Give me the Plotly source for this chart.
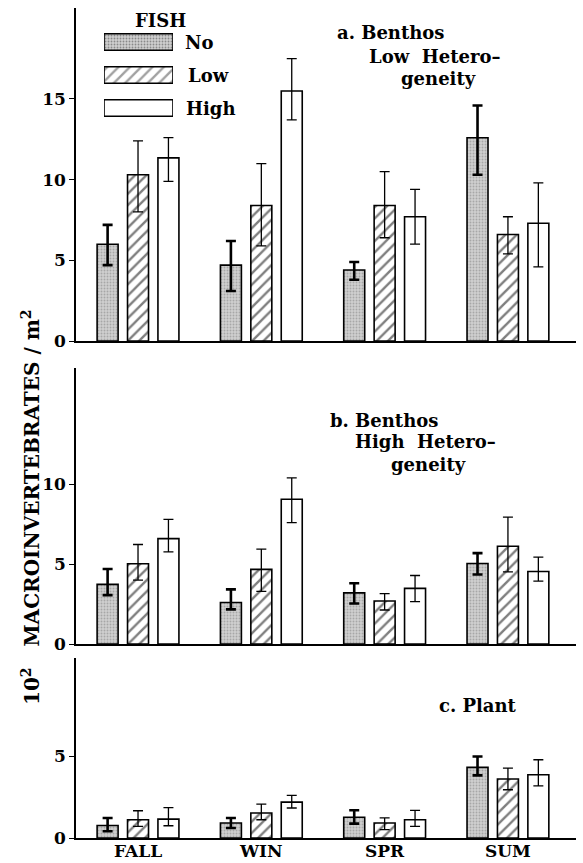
import plotly.graph_objects as go

seasons = ["FALL", "WIN", "SPR", "SUM"]
fish_levels = ["No", "Low", "High"]

# Panel a: Benthos, low heterogeneity (means, upper and lower error limits)
a_no = [6.0, 4.7, 4.4, 12.6]
a_no_hi = [7.2, 6.2, 4.9, 14.6]
a_no_lo = [4.7, 3.1, 3.8, 10.3]
a_low = [10.3, 8.4, 8.4, 6.6]
a_low_hi = [12.4, 11.0, 10.5, 7.7]
a_low_lo = [8.0, 5.9, 6.4, 5.4]
a_high = [11.35, 15.5, 7.7, 7.3]
a_high_hi = [12.6, 17.5, 9.4, 9.8]
a_high_lo = [9.9, 13.7, 6.0, 4.6]

# Panel b: Benthos, high heterogeneity
b_no = [3.73, 2.6, 3.2, 5.04]
b_no_hi = [4.7, 3.42, 3.8, 5.69]
b_no_lo = [3.06, 2.17, 2.54, 4.35]
b_low = [5.02, 4.67, 2.69, 6.12]
b_low_hi = [6.23, 5.94, 3.15, 7.94]
b_low_lo = [4.0, 3.3, 2.13, 4.52]
b_high = [6.6, 9.06, 3.48, 4.54]
b_high_hi = [7.8, 10.4, 4.29, 5.44]
b_high_lo = [5.77, 7.6, 2.65, 3.94]

# Panel c: Plant
c_no = [0.77, 0.92, 1.27, 4.33]
c_no_hi = [1.23, 1.23, 1.7, 5.0]
c_no_lo = [0.41, 0.61, 0.88, 3.84]
c_low = [1.12, 1.53, 0.92, 3.62]
c_low_hi = [1.67, 2.08, 1.23, 4.29]
c_low_lo = [0.71, 1.12, 0.51, 2.96]
c_high = [1.16, 2.2, 1.12, 3.88]
c_high_hi = [1.86, 2.61, 1.7, 4.8]
c_high_lo = [0.75, 1.84, 0.71, 3.2]

yticks_a = [0, 5, 10, 15]
yticks_b = [0, 5, 10]
yticks_c = [0, 5]

FONT = "'DejaVu Serif', 'Liberation Serif', serif"
W, H = 583, 863
ML, MR, MT, MB = 76, 7, 8, 25
PW = W - ML - MR
PH = H - MT - MB


def px(x):
    return (x - ML) / PW


def py(y):
    return (H - MB - y) / PH


styles = {
    "No": dict(color="#cfcfcf", pattern=dict(shape=".", fgcolor="#808080", size=3, solidity=0.3), ethick=2.6),
    "Low": dict(color="white", pattern=dict(shape="/", fgcolor="black", size=8, solidity=0.3), ethick=1.3),
    "High": dict(color="white", pattern=dict(shape=""), ethick=1.3),
}

fig = go.Figure()

panels = [
    ("x", "y", [(a_no, a_no_hi, a_no_lo), (a_low, a_low_hi, a_low_lo), (a_high, a_high_hi, a_high_lo)]),
    ("x2", "y2", [(b_no, b_no_hi, b_no_lo), (b_low, b_low_hi, b_low_lo), (b_high, b_high_hi, b_high_lo)]),
    ("x3", "y3", [(c_no, c_no_hi, c_no_lo), (c_low, c_low_hi, c_low_lo), (c_high, c_high_hi, c_high_lo)]),
]

for xa, ya, series in panels:
    for lvl, (m, hi, lo) in zip(fish_levels, series):
        st = styles[lvl]
        fig.add_trace(go.Bar(
            x=seasons, y=m, name=lvl, xaxis=xa, yaxis=ya, showlegend=False,
            marker=dict(color=st["color"], pattern=st["pattern"],
                        line=dict(color="black", width=1.6)),
            error_y=dict(type="data", symmetric=False,
                         array=[h - v for h, v in zip(hi, m)],
                         arrayminus=[v - l for v, l in zip(m, lo)],
                         color="black", thickness=st["ethick"], width=5),
            hoverinfo="skip",
        ))

# legend swatches drawn as bars on a hidden axis
fig.add_trace(go.Bar(
    y=[2, 1, 0], x=[1, 1, 1], orientation="h", xaxis="x4", yaxis="y4",
    width=0.5, showlegend=False, hoverinfo="skip",
    marker=dict(color=[styles[l]["color"] for l in fish_levels],
                pattern=dict(shape=[".", "/", ""], fgcolor=["#808080", "black", "black"],
                             size=[3, 8, 8], solidity=[0.3, 0.3, 0.3]),
                line=dict(color="black", width=1.6)),
))

tickfont = dict(family=FONT, size=17, color="black", weight="bold")
xcommon = dict(type="category", range=[-0.503, 3.552], showline=True, linecolor="black",
               linewidth=1.6, ticks="", showgrid=False, zeroline=False, fixedrange=True,
               automargin=False)
ycommon = dict(showline=True, linecolor="black", linewidth=1.6, ticks="outside", ticklen=5,
               tickwidth=1.4, tickcolor="black", showgrid=False, zeroline=False,
               tickfont=tickfont, automargin=False)

fig.update_layout(
    width=W, height=H,
    margin=dict(l=ML, r=MR, t=MT, b=MB, autoexpand=False),
    paper_bgcolor="white", plot_bgcolor="white",
    barmode="group", bargap=0.26, bargroupgap=0.31,
    xaxis=dict(**xcommon, anchor="y", showticklabels=False),
    yaxis=dict(**ycommon, domain=[py(341), 1.0], range=[0, 20.64], tickvals=yticks_a),
    xaxis2=dict(**xcommon, anchor="y2", showticklabels=False),
    yaxis2=dict(**ycommon, domain=[py(644), py(368)], range=[0, 17.28], tickvals=yticks_b),
    xaxis3=dict(**xcommon, anchor="y3", showticklabels=True, ticklabelstandoff=-3,
                tickfont=dict(family=FONT, size=17, color="black", weight="bold")),
    yaxis3=dict(**ycommon, domain=[0, py(658)], range=[0, 11.04], tickvals=yticks_c),
    xaxis4=dict(domain=[px(104), px(173)], range=[0, 1], visible=False, anchor="y4",
                fixedrange=True, automargin=False),
    yaxis4=dict(domain=[py(125), py(25)], range=[-0.515, 2.515], visible=False, anchor="x4",
                fixedrange=True, automargin=False),
)

afont = dict(family=FONT, size=18, color="black", weight="bold")
notes = [
    ("FISH", 160, 20, "center"),
    ("No", 183, 42, "left"),
    ("Low", 186, 75, "left"),
    ("High", 184, 108, "left"),
    ("a. Benthos", 335, 32, "left"),
    ("Low  Hetero–", 367, 56, "left"),
    ("geneity", 399, 78, "left"),
    ("b. Benthos", 328, 420, "left"),
    ("High  Hetero–", 353, 442, "left"),
    ("geneity", 389, 464, "left"),
    ("c. Plant", 437, 705, "left"),
]
for txt, x, y, anc in notes:
    fig.add_annotation(text=txt, x=px(x), y=py(y), xref="paper", yref="paper",
                       xanchor=anc, yanchor="middle", showarrow=False, font=afont)

fig.add_annotation(text="10<sup>2</sup>   MACROINVERTEBRATES / m<sup>2</sup>",
                   x=px(31), y=py(507), xref="paper", yref="paper",
                   xanchor="center", yanchor="middle", textangle=-90, showarrow=False,
                   font=dict(family=FONT, size=20, color="black", weight="bold"))

fig.write_html("out.html")
